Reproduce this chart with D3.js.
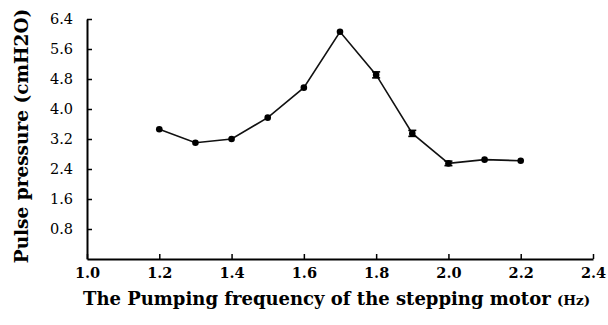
<!DOCTYPE html>
<html>
<head>
<meta charset="utf-8">
<script src="https://cdn.jsdelivr.net/npm/d3@7"></script>
<style>
  html, body { margin: 0; padding: 0; background: #fff; }
  svg { display: block; }
</style>
</head>
<body>
<div id="chart"></div>
<script>
// values
const frequency = [1.2, 1.3, 1.4, 1.5, 1.6, 1.7, 1.8, 1.9, 2.0, 2.1, 2.2];
const pressure = [3.46, 3.10, 3.20, 3.77, 4.57, 6.06, 4.91, 3.35, 2.55, 2.65, 2.62];
const errors = [0, 0, 0, 0, 0, 0, 0.08, 0.08, 0.06, 0, 0];
const xTicks = [1.0, 1.2, 1.4, 1.6, 1.8, 2.0, 2.2, 2.4];
const yTicks = [0.8, 1.6, 2.4, 3.2, 4.0, 4.8, 5.6, 6.4];

const W = 608, H = 325;
const margin = { top: 19, right: 15, bottom: 66, left: 87 };
const width = W - margin.left - margin.right;
const height = H - margin.top - margin.bottom;
const serif = "'DejaVu Serif', 'Liberation Serif', serif";

const svg = d3.select('#chart')
  .append('svg')
    .attr('width', W)
    .attr('height', H);

const g = svg.append('g')
  .attr('transform', `translate(${margin.left},${margin.top})`);

const x = d3.scaleLinear().domain([1.0, 2.4]).range([0, width]);
const y = d3.scaleLinear().domain([0, 6.4]).range([height, 0]);

// x axis, ticks pointing inward
g.append('g')
  .attr('transform', `translate(0,${height})`)
  .call(d3.axisBottom(x).tickValues(xTicks).tickFormat(d3.format('.1f')).tickSizeInner(-5).tickSizeOuter(0).tickPadding(9))
  .call(g => g.select('.domain').attr('stroke', '#000').attr('stroke-width', 2))
  .call(g => g.selectAll('.tick line').attr('stroke', '#000').attr('stroke-width', 1.5))
  .call(g => g.selectAll('.tick text')
    .attr('fill', '#000')
    .style('font-family', serif)
    .style('font-weight', 'bold')
    .style('font-size', '14.5px'));

// y axis
g.append('g')
  .call(d3.axisLeft(y).tickValues(yTicks).tickFormat(d3.format('.1f')).tickSizeInner(-5).tickSizeOuter(0).tickPadding(14))
  .call(g => g.select('.domain').attr('stroke', '#000').attr('stroke-width', 2))
  .call(g => g.selectAll('.tick line').attr('stroke', '#000').attr('stroke-width', 1.5))
  .call(g => g.selectAll('.tick text')
    .attr('fill', '#000')
    .style('font-family', serif)
    .style('font-size', '14.5px'));

const data = frequency.map((f, i) => ({ f, p: pressure[i], e: errors[i] }));

const line = d3.line()
  .x(d => x(d.f))
  .y(d => y(d.p));

g.append('path')
  .datum(data)
  .attr('fill', 'none')
  .attr('stroke', '#111')
  .attr('stroke-width', 1.6)
  .attr('d', line);

// small error bars
const eb = g.selectAll('.err')
  .data(data.filter(d => d.e > 0))
  .join('g')
  .attr('class', 'err')
  .attr('stroke', '#000')
  .attr('stroke-width', 1.6);
eb.append('line')
  .attr('x1', d => x(d.f)).attr('x2', d => x(d.f))
  .attr('y1', d => y(d.p + d.e)).attr('y2', d => y(d.p - d.e));
eb.append('line')
  .attr('x1', d => x(d.f) - 4).attr('x2', d => x(d.f) + 4)
  .attr('y1', d => y(d.p + d.e)).attr('y2', d => y(d.p + d.e));
eb.append('line')
  .attr('x1', d => x(d.f) - 4).attr('x2', d => x(d.f) + 4)
  .attr('y1', d => y(d.p - d.e)).attr('y2', d => y(d.p - d.e));

g.selectAll('.pt')
  .data(data)
  .join('circle')
  .attr('class', 'pt')
  .attr('cx', d => x(d.f))
  .attr('cy', d => y(d.p))
  .attr('r', 3.3)
  .attr('fill', '#000');

// axis titles
const xt = svg.append('text')
  .attr('x', 83)
  .attr('y', 305)
  .attr('fill', '#000')
  .style('font-family', serif)
  .style('font-weight', 'bold')
  .style('font-size', '18px');
xt.append('tspan').text('The Pumping frequency of the stepping motor ');
xt.append('tspan').style('font-size', '13.5px').text('(Hz)');

svg.append('text')
  .attr('transform', `translate(28,${136}) rotate(-90)`)
  .attr('text-anchor', 'middle')
  .attr('fill', '#000')
  .style('font-family', serif)
  .style('font-weight', 'bold')
  .style('font-size', '18.5px')
  .text('Pulse pressure (cmH2O)');
</script>
</body>
</html>
